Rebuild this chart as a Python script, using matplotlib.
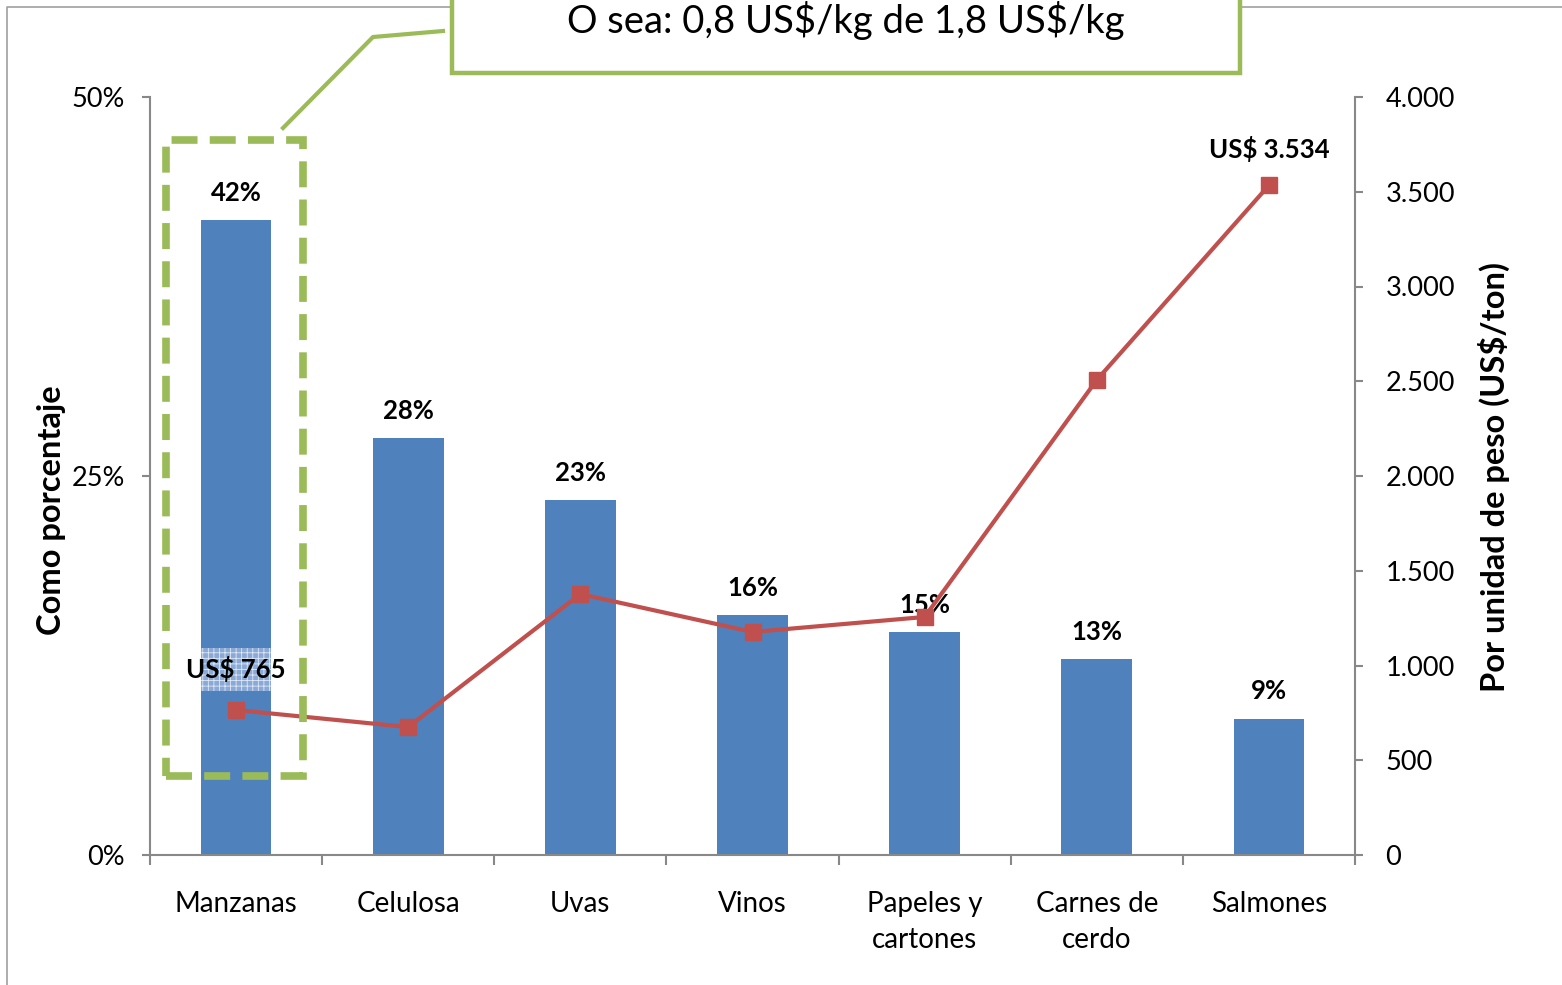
import matplotlib
matplotlib.use("Agg")
import matplotlib.pyplot as plt
from matplotlib.patches import Rectangle
from matplotlib.lines import Line2D
from matplotlib.ticker import FuncFormatter, FixedLocator
import numpy as np

categories = ["Manzanas", "Celulosa", "Uvas", "Vinos", "Papeles y\ncartones", "Carnes de\ncerdo", "Salmones"]
share_pct = [41.9, 27.5, 23.4, 15.8, 14.7, 12.9, 9.0]
share_labels = ["42%", "28%", "23%", "16%", "15%", "13%", "9%"]
price_usd_ton = [765, 675, 1377, 1177, 1256, 2507, 3534]
price_labels = ["US\\$ 765", None, None, None, None, None, "US\\$ 3.534"]
left_ticks = [0, 25, 50]
right_ticks = [0, 500, 1000, 1500, 2000, 2500, 3000, 3500, 4000]
callout_text = "O sea: 0,8 US\\$/kg de 1,8 US\\$/kg"

BLUE = "#4f81bd"
RED = "#c0504d"
GREEN = "#9bbb59"
GRAY = "#888888"

plt.rcParams['font.family'] = ['Lato', 'DejaVu Sans']
plt.rcParams['hatch.color'] = '#dfe8f5'
plt.rcParams['hatch.linewidth'] = 0.6

W, H = 1562, 985
fig = plt.figure(figsize=(W / 100, H / 100), dpi=100)

def fx(x):
    return x / W

def fy(y):
    return 1 - y / H

ax = fig.add_axes([fx(150), fy(855), fx(1355) - fx(150), fy(97) - fy(855)])
ax2 = ax.twinx()

x = np.arange(len(categories))
bw = 0.41
ax.bar(x, share_pct, width=bw, color=BLUE, zorder=2)
ax.set_xlim(-0.5, len(categories) - 0.5)
ax.set_ylim(0, 50)
ax.set_yticks(left_ticks)
ax.yaxis.set_major_formatter(FuncFormatter(lambda v, p: f"{int(v)}%"))

for xi, v, lab in zip(x, share_pct, share_labels):
    ax.annotate(lab, (xi, v), xytext=(0, 19.5), textcoords="offset points",
                ha="center", va="center", fontsize=18.5, fontweight="bold", zorder=6)

ax2.plot(x, price_usd_ton, color=RED, lw=3, marker="s", ms=12, zorder=5)
ax2.set_ylim(0, 4000)
ax2.set_yticks(right_ticks)
ax2.yaxis.set_major_formatter(FuncFormatter(lambda v, p: f"{int(v):,}".replace(",", ".")))

off_px = 41
for xi, v, lab in zip(x, price_usd_ton, price_labels):
    if lab is None:
        continue
    if xi == 0:
        cy = v + off_px * 4000 / 758
        hh = 21.5 * 4000 / 758
        ax2.add_patch(Rectangle((xi - bw / 2, cy - hh), bw, 2 * hh, facecolor="#8aa9d6",
                                edgecolor="#dfe8f5", hatch="+++", lw=0, zorder=4))
        ax2.annotate(lab, (xi, v), xytext=(0, off_px * 0.72), textcoords="offset points",
                     ha="center", va="center", fontsize=18.5, fontweight="bold", zorder=6)
    else:
        ax2.annotate(lab, (xi, v), xytext=(0, 26), textcoords="offset points",
                     ha="center", va="center", fontsize=18.5, fontweight="bold", zorder=6)

for a in (ax, ax2):
    a.spines["top"].set_visible(False)
    for s in ("left", "right", "bottom"):
        a.spines[s].set_color(GRAY)
        a.spines[s].set_linewidth(1.5)
ax.spines["right"].set_visible(False)
ax2.spines["left"].set_visible(False)
ax2.spines["bottom"].set_visible(False)

ax.tick_params(axis="y", direction="out", length=6, width=1.5, color=GRAY, pad=12, labelsize=19.5)
ax2.tick_params(axis="y", direction="out", length=6, width=1.5, color=GRAY, pad=16, labelsize=19.5)
ax.set_xticks(x)
ax.set_xticklabels(categories, fontsize=20, linespacing=1.45)
ax.tick_params(axis="x", which="major", length=0, pad=26)
ax.xaxis.set_minor_locator(FixedLocator(np.arange(-0.5, len(categories), 1.0)))
ax.tick_params(axis="x", which="minor", direction="out", length=7, width=1.5, color=GRAY)

fig.text(fx(52), fy(510), "Como porcentaje", rotation=90, ha="center", va="center",
         fontsize=23.5, fontweight="bold")
fig.text(fx(1494), fy(477), "Por unidad de peso (US\\$/ton)", rotation=90, ha="center", va="center",
         fontsize=23.5, fontweight="bold")

fig.add_artist(Line2D([fx(7), fx(7), fx(1562)], [fy(985), fy(7), fy(7)], color="#a0a0a0", lw=1.2))

fig.add_artist(Rectangle((fx(452), fy(73)), fx(1240) - fx(452), fy(-60) - fy(73),
                         facecolor="white", edgecolor=GREEN, lw=3.2, zorder=10))
fig.text(fx(846), fy(20), callout_text, ha="center", va="center", fontsize=27.5, zorder=11)
fig.add_artist(Line2D([fx(283), fx(373), fx(443)], [fy(128), fy(37), fy(31)],
                      color=GREEN, lw=3, zorder=10))
fig.add_artist(Rectangle((fx(166), fy(776)), fx(303) - fx(166), fy(140) - fy(776),
                         facecolor="none", edgecolor=GREEN, lw=5.5,
                         linestyle=(0, (3.4, 1.6)), zorder=10))

fig.savefig("out.png", dpi=100)
